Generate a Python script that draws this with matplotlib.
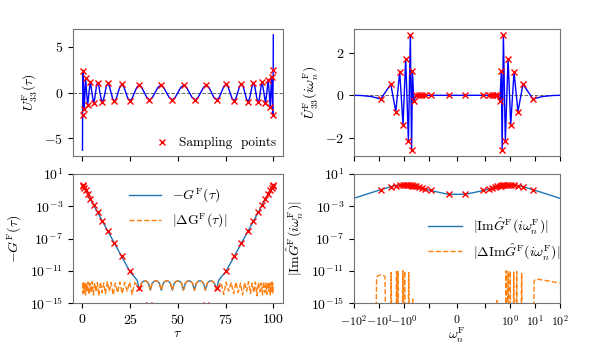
import numpy as np
import matplotlib
matplotlib.use("Agg")
import matplotlib.pyplot as plt

plt.rcParams['font.family'] = 'serif'
plt.rcParams['font.serif'] = ['cmr10']
plt.rcParams['mathtext.fontset'] = 'cm'
plt.rcParams['axes.formatter.use_mathtext'] = True
plt.rcParams['font.size'] = 10
plt.rcParams['axes.unicode_minus'] = True

# ---- imaginary time sampling points (top left / bottom left)
tau_s = [0.05, 0.3, 0.95, 1.6, 2.7, 4.1, 5.8, 7.9, 10.4, 13.2, 16.7, 20.6, 24.8, 29.7, 35.1, 41.0, 47.0,
         53.0, 59.0, 64.9, 70.3, 75.2, 79.4, 83.3, 86.8, 89.6, 92.1, 94.2, 95.9, 97.3, 98.4, 99.05, 99.7, 99.95]
u_s = [-2.5, 2.4, -1.75, 1.55, -1.4, 1.17, -1.13, 1.08, -1.02, 0.99, -0.97, 0.91, -0.9, 0.82, -0.8, 0.8, -0.8,
       0.8, -0.8, 0.8, -0.82, 0.9, -0.91, 0.97, -0.99, 1.02, -1.08, 1.13, -1.17, 1.4, -1.55, 1.75, -2.4, 2.5]
g_s = [0.46, 0.355, 0.19, 0.1, 0.033, 8.3e-3, 1.5e-3, 1.9e-4, 1.6e-5, 1e-6, 3e-8, 6e-10, 1e-11, 8e-14, 6e-16, 1.5e-18, 4e-21,
       4e-21, 1.5e-18, 6e-16, 8e-14, 1e-11, 6e-10, 3e-8, 1e-6, 1.6e-5, 1.9e-4, 1.5e-3, 8.3e-3, 0.033, 0.1, 0.19, 0.355, 0.46]

# U(tau) curve (edge spikes, extrema, shoulders, zero crossings)
tau_u = [0.0, 0.05, 0.3, 0.62, 0.95, 1.27, 1.6, 2.15, 2.7, 3.4, 4.1, 4.95, 5.8,
         6.32, 6.85, 7.38, 7.9, 8.52, 9.15, 9.78, 10.4, 11.1, 11.8, 12.5, 13.2, 14.08, 14.95, 15.82,
         16.7, 17.68, 18.65, 19.62, 20.6, 21.65, 22.7, 23.75, 24.8, 26.02, 27.25, 28.48,
         29.7, 31.05, 32.4, 33.75, 35.1, 36.58, 38.05, 39.52, 41.0, 42.5, 44.0, 45.5,
         47.0, 48.5, 50.0, 51.5, 53.0, 54.5, 56.0, 57.5, 59.0, 60.48, 61.95, 63.42,
         64.9, 66.25, 67.6, 68.95, 70.3, 71.52, 72.75, 73.98, 75.2, 76.25, 77.3, 78.35,
         79.4, 80.38, 81.35, 82.32, 83.3, 84.18, 85.05, 85.92, 86.8, 87.5, 88.2, 88.9,
         89.6, 90.22, 90.85, 91.48, 92.1, 92.62, 93.15, 93.68, 94.2,
         95.05, 95.9, 96.6, 97.3, 97.85, 98.4, 98.72, 99.05, 99.38, 99.7, 99.95, 100.0]
u_line = [-6.3, -2.5, 2.4, 0.0, -1.75, 0.0, 1.55, 0.0, -1.4, 0.0, 1.17, 0.0, -1.13,
          -0.79, 0.0, 0.76, 1.08, 0.76, 0.0, -0.71, -1.02, -0.71, 0.0, 0.69, 0.99, 0.69, 0.0, -0.68,
          -0.97, -0.68, 0.0, 0.64, 0.91, 0.64, 0.0, -0.63, -0.9, -0.63, 0.0, 0.57,
          0.82, 0.57, 0.0, -0.56, -0.8, -0.56, 0.0, 0.56, 0.8, 0.56, 0.0, -0.56,
          -0.8, -0.56, 0.0, 0.56, 0.8, 0.56, 0.0, -0.56, -0.8, -0.56, 0.0, 0.56,
          0.8, 0.56, 0.0, -0.57, -0.82, -0.57, 0.0, 0.63, 0.9, 0.63, 0.0, -0.64,
          -0.91, -0.64, 0.0, 0.68, 0.97, 0.68, 0.0, -0.69, -0.99, -0.69, 0.0, 0.71,
          1.02, 0.71, 0.0, -0.76, -1.08, -0.76, 0.0, 0.79, 1.13,
          0.0, -1.17, 0.0, 1.4, 0.0, -1.55, 0.0, 1.75, 0.0, -2.4, 2.5, 6.3]

# -G(tau) line: exponential tails and numerical noise arcs in the middle
tau_arc = [29.8, 30.8, 31.7, 32.7, 33.6, 34.6, 35.6, 36.5, 37.5, 38.4, 39.4, 40.3,
           41.3, 42.3, 43.2, 44.2, 45.1, 46.1, 47.1, 48.1, 49.0, 50.0, 51.0, 51.9,
           52.9, 53.9, 54.8, 55.8, 56.7, 57.7, 58.7, 59.6, 60.6, 61.5, 62.5, 63.4,
           64.4, 65.4, 66.3, 67.3, 68.2, 69.2, 70.2]
g_arc = [4e-14, 2.8e-13, 4.9e-13, 5.7e-13, 4.9e-13, 2.8e-13, 4e-14, 2.8e-13, 4.9e-13, 5.7e-13, 4.9e-13, 2.8e-13,
         4e-14, 2.8e-13, 4.9e-13, 5.7e-13, 4.9e-13, 2.8e-13, 4e-14, 2.8e-13, 4.9e-13, 5.7e-13, 4.9e-13, 2.8e-13,
         4e-14, 2.8e-13, 4.9e-13, 5.7e-13, 4.9e-13, 2.8e-13, 4e-14, 2.8e-13, 4.9e-13, 5.7e-13, 4.9e-13, 2.8e-13,
         4e-14, 2.8e-13, 4.9e-13, 5.7e-13, 4.9e-13, 2.8e-13, 4e-14]
tau_gl = [0.0, 5.0, 10.0, 15.0, 20.0, 25.0, 27.6, 28.7]
g_gl = [0.48, 3.3e-3, 2.2e-5, 1.5e-7, 1.0e-9, 7e-12, 1.4e-12, 6e-13]
tau_gr = [71.3, 72.4, 75.0, 80.0, 85.0, 90.0, 95.0, 100.0]
g_gr = [6e-13, 1.4e-12, 7e-12, 1.0e-9, 1.5e-7, 2.2e-5, 3.3e-3, 0.48]

# |Delta G(tau)| noise outside the middle region
tau_nl = [0.0, 0.3, 0.6, 0.9, 1.2, 1.6, 2.0, 2.4, 2.9, 3.4, 3.9, 4.5, 5.1, 5.7, 6.4, 7.1, 7.8, 8.6,
          9.4, 10.2, 11.1, 12.0, 13.0, 14.0, 15.0, 16.1, 17.2, 18.4, 19.6, 20.8, 22.1, 23.4, 24.7, 26.0, 27.4, 28.6]
dg_nl = [3e-13, 1.5e-14, 4e-13, 2e-14, 3.5e-13, 1e-14, 2.5e-13, 3e-14, 4e-13, 1.2e-14, 3e-13, 2e-14, 4.5e-13, 1e-14,
         3e-13, 2.5e-14, 3.5e-13, 8e-15, 4e-13, 2e-14, 3e-13, 1.5e-14, 4.5e-13, 3e-14, 3.5e-13, 1e-14, 3e-13, 2e-14,
         4e-13, 1.5e-14, 3.5e-13, 3e-14, 4e-13, 1.2e-14, 3.5e-13, 1.5e-13]
tau_nr = [71.4, 72.6, 74.0, 75.3, 76.6, 77.9, 79.2, 80.4, 81.6, 82.8, 83.9, 85.0, 86.0, 87.0, 88.0, 88.9, 89.8, 90.6,
          91.4, 92.2, 92.9, 93.6, 94.3, 94.9, 95.5, 96.1, 96.6, 97.1, 97.6, 98.0, 98.4, 98.8, 99.1, 99.4, 99.7, 100.0]
dg_nr = [1.5e-13, 3.5e-13, 1.2e-14, 4e-13, 3e-14, 3.5e-13, 1.5e-14, 4e-13, 2e-14, 3e-13, 1e-14, 3.5e-13, 3e-14,
         4.5e-13, 1.5e-14, 3e-13, 2e-14, 4e-13, 8e-15, 3.5e-13, 2.5e-14, 3e-13, 1e-14, 4.5e-13, 2e-14, 3e-13,
         1.2e-14, 4e-13, 3e-14, 2.5e-13, 1e-14, 3.5e-13, 2e-14, 4e-13, 1.5e-14, 3e-13]

# ---- Matsubara sampling frequencies (top right / bottom right)
w_s = [-8.5, -3.4, -2.14, -1.49, -1.10, -0.86, -0.67, -0.56, -0.50, -0.46, -0.41, -0.32, -0.25, -0.195, -0.149, -0.093, -0.030,
       0.030, 0.093, 0.149, 0.195, 0.25, 0.32, 0.41, 0.46, 0.50, 0.56, 0.67, 0.86, 1.10, 1.49, 2.14, 3.4, 8.5]
uhat_s = [-0.17, 0.52, -0.76, 1.09, -1.37, 1.72, -2.16, 2.83, -2.57, 1.14, -0.25, 0.03, 0.02, 0.01, 0.0, 0.0, 0.0,
          0.0, 0.0, 0.0, 0.01, 0.02, 0.03, -0.25, 1.14, -2.57, 2.83, -2.16, 1.72, -1.37, 1.09, -0.76, 0.52, -0.17]
img_s = [0.116, 0.27, 0.38, 0.46, 0.50, 0.49, 0.46, 0.43, 0.40, 0.38, 0.35, 0.29, 0.235, 0.185, 0.146, 0.092, 0.030,
         0.030, 0.092, 0.146, 0.185, 0.235, 0.29, 0.35, 0.38, 0.40, 0.43, 0.46, 0.49, 0.50, 0.46, 0.38, 0.27, 0.116]

w_uline = [-100.0, -50.0, -20.0] + w_s + [20.0, 50.0, 100.0]
uhat_line = [0.0, -0.01, -0.06] + uhat_s + [-0.06, -0.01, 0.0]

w_gline = [-100.0, -50.0, -20.0, -10.0, -5.0, -3.0, -2.0, -1.5, -1.0, -0.7, -0.5, -0.3, -0.2, -0.1, -0.0314,
           0.0314, 0.1, 0.2, 0.3, 0.5, 0.7, 1.0, 1.5, 2.0, 3.0, 5.0, 10.0, 20.0, 50.0, 100.0]
img_line = [0.01, 0.02, 0.05, 0.099, 0.19, 0.3, 0.4, 0.46, 0.5, 0.47, 0.4, 0.275, 0.19, 0.099, 0.031,
            0.031, 0.099, 0.19, 0.275, 0.4, 0.47, 0.5, 0.46, 0.4, 0.3, 0.19, 0.099, 0.05, 0.02, 0.01]

w_dg = [-13.5, -12.5, -11.0, -9.0, -7.0, -5.8, -5.2, -3.5, -3.3, -3.0, -2.1, -2.0, -1.9, -1.75, -1.65,
        -1.2, -1.12, -1.05, -0.95, -0.88, -0.7, -0.65, -0.6, -0.48, -0.45, -0.42,
        0.29, 0.31, 0.33, 0.68, 0.72, 0.76, 0.82, 0.86, 0.9, 1.0, 1.05, 1.1, 1.38, 1.45, 1.55,
        1.8, 1.9, 2.0, 2.8, 3.0, 3.3, 8.8, 9.5, 11.0, 15.0, 30.0, 60.0, 100.0]
dimg = [1e-20, 1.5e-12, 2.5e-12, 3e-12, 2.8e-12, 2e-12, 1e-20, 1e-20, 6e-12, 1e-20, 1e-20, 8e-12, 1e-20, 9e-12, 1e-20,
        1e-20, 1e-11, 1e-20, 9e-12, 1e-20, 1e-20, 6e-12, 1e-20, 1e-20, 3e-15, 1e-20,
        1e-20, 2e-15, 1e-20, 1e-20, 1e-11, 1e-20, 1e-20, 8e-12, 1e-20, 1e-20, 9e-12, 1e-20, 1e-20, 7e-12, 1e-20,
        1e-20, 8e-12, 1e-20, 1e-20, 5e-12, 1e-20, 1e-20, 6e-13, 9e-13, 8.5e-13, 6e-13, 4e-13, 3e-13]

fig = plt.figure(figsize=(5.98, 3.44), dpi=100)
ax1 = fig.add_axes([0.122, 0.5465, 0.351, 0.369])
ax3 = fig.add_axes([0.122, 0.119, 0.351, 0.375], sharex=ax1)
ax2 = fig.add_axes([0.592, 0.5465, 0.344, 0.369])
ax4 = fig.add_axes([0.592, 0.119, 0.344, 0.375], sharex=ax2)

# top left
ax1.axhline(0, color='0.4', ls='--', lw=0.7)
ax1.plot(tau_u, u_line, color='b', lw=1)
ax1.plot(tau_s, u_s, 'rx', ms=4, mew=1, label='Sampling  points')
ax1.set_ylabel(r'$U^{\rm F}_{33}(\tau)$')
ax1.set_yticks([-5, 0, 5])
ax1.legend(loc='lower right', frameon=False, handletextpad=0.3, borderaxespad=0.1, fontsize=9.5)
plt.setp(ax1.get_xticklabels(), visible=False)

# bottom left
ax3.plot(tau_gl + tau_arc + tau_gr, g_gl + g_arc + g_gr, color='C0', lw=1, label=r'$-G^{\rm F}(\tau)$')
ax3.plot(tau_nl + tau_arc + tau_nr, dg_nl + g_arc + dg_nr, color='C1', ls='--', lw=1,
         label=r'$|\Delta \mathrm{G}^{\rm F}(\tau)|$')
ax3.plot(tau_s, g_s, 'rx', ms=5, mew=1)
ax3.set_yscale('log')
ax3.set_ylim(1e-15, 10)
ax3.set_yticks([1e1, 1e-3, 1e-7, 1e-11, 1e-15])
ax3.minorticks_off()
ax3.set_xticks([0, 25, 50, 75, 100])
ax3.set_xlabel(r'$\tau$', labelpad=1)
ax3.set_ylabel(r'$-G^{\rm F}(\tau)$')
ax3.legend(loc='upper center', bbox_to_anchor=(0.5, 1.0), frameon=False, fontsize=10, handlelength=2.3)

# top right
ax2.axhline(0, color='0.4', ls='--', lw=0.7)
ax2.plot(w_uline, uhat_line, color='b', lw=1)
ax2.plot(w_s, uhat_s, 'rx', ms=4, mew=1)
ax2.set_xscale('symlog', linthresh=0.1)
ax2.set_xlim(-100, 100)
ax2.set_yticks([-2, 0, 2])
ax2.set_ylabel(r'$\hat{U}^{\rm F}_{33}(i\omega^{\rm F}_n)$')
plt.setp(ax2.get_xticklabels(), visible=False)

# bottom right
ax4.plot(w_gline, img_line, color='C0', lw=1, label=r'$|{\rm Im}\hat{G}^{\rm F}(i\omega^{\rm F}_n)|$')
ax4.plot(w_dg, dimg, color='C1', ls='--', lw=1, label=r'$|\Delta{\rm Im}\hat{G}^{\rm F}(i\omega^{\rm F}_n)|$')
ax4.plot(w_s, img_s, 'rx', ms=5, mew=1)
ax4.set_yscale('log')
ax4.set_ylim(1e-15, 10)
ax4.set_yticks([1e1, 1e-3, 1e-7, 1e-11, 1e-15])
ax4.set_xticks([-100, -10, -1, -0.1, 0, 0.1, 1, 10, 100])
ax4.set_xticklabels([r'$-10^2$', r'$-10^1$', r'$-10^0$', '', r'$0$', '', r'$10^0$', r'$10^1$', r'$10^2$'])
ax4.tick_params(axis='x', labelsize=8.5)
ax4.minorticks_off()
ax4.set_xlim(-100, 100)
ax4.set_xlabel(r'$\omega^{\rm F}_n$', labelpad=-1)
ax4.set_ylabel(r'$|{\rm Im}\hat{G}^{\rm F}(i\omega^{\rm F}_n)|$')
ax4.legend(loc='center right', bbox_to_anchor=(1.065, 0.5), frameon=False, fontsize=10,
           handlelength=2.5, labelspacing=0.35)

for ax in [ax1, ax2, ax3, ax4]:
    for s in ax.spines.values():
        s.set_color('0.45')

fig.savefig('out.png', dpi=100)
